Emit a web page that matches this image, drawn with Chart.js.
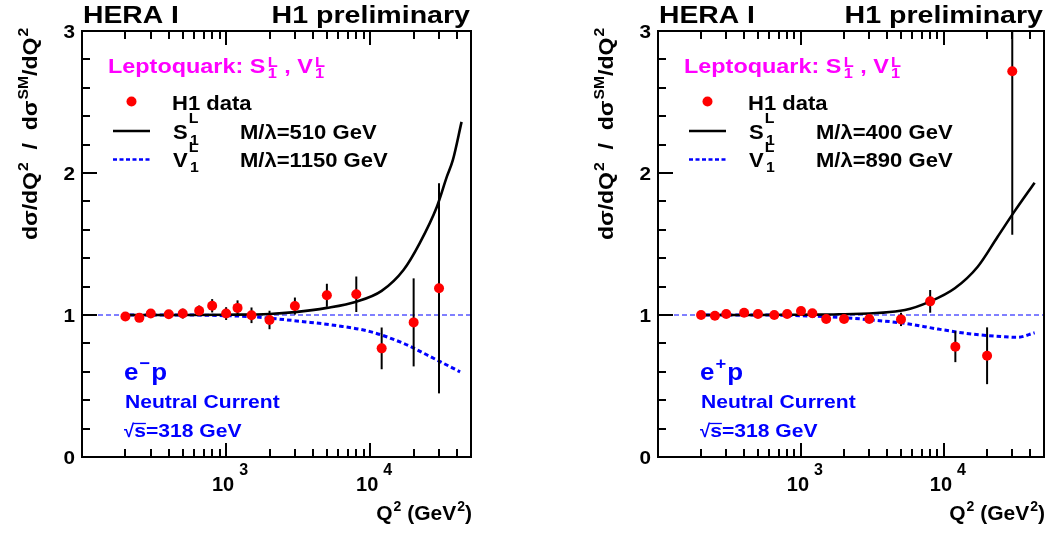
<!DOCTYPE html>
<html>
<head>
<meta charset="utf-8">
<script src="https://cdn.jsdelivr.net/npm/chart.js@4.4.0/dist/chart.umd.min.js"></script>
<style>
  body { margin: 0; background: #fff; }
  canvas { position: absolute; top: 0; }
</style>
</head>
<body>
<canvas id="emPanel" width="576" height="534" style="left:0;width:576px;height:534px"></canvas>
<canvas id="epPanel" width="473" height="534" style="left:576px;width:473px;height:534px"></canvas>
<script>
// measured points, both panels share the Q2 bins
const q2Bins = [200, 250, 300, 400, 500, 650, 800, 1000, 1200, 1500, 2000, 3000, 5000, 8000, 12000, 20000, 30000];

const emRatio = [0.99, 0.98, 1.01, 1.005, 1.01, 1.03, 1.065, 1.01, 1.05, 0.998, 0.965, 1.063, 1.139, 1.146, 0.765, 0.948, 1.188];
const emError = [0.02, 0.02, 0.03, 0.025, 0.035, 0.037, 0.047, 0.045, 0.053, 0.055, 0.065, 0.06, 0.081, 0.125, 0.147, 0.31, 0.74];

const epRatio = [1.0, 0.995, 1.007, 1.016, 1.007, 1.0, 1.007, 1.028, 1.012, 0.972, 0.972, 0.972, 0.969, 1.096, 0.777, 0.713, 2.716];
const epError = [0.015, 0.015, 0.015, 0.015, 0.015, 0.015, 0.015, 0.02, 0.02, 0.02, 0.02, 0.02, 0.047, 0.08, 0.109, 0.2, 1.15];

// leptoquark model curves
const emSQ2 = [190, 500, 1000, 2000, 3000, 5000, 8000, 12000, 17000, 22000, 29000, 34000, 37400, 43000];
const emS = [1.0, 1.0, 1.002, 1.007, 1.02, 1.05, 1.094, 1.17, 1.317, 1.505, 1.763, 1.974, 2.09, 2.36];
const emVQ2 = [190, 500, 1000, 1500, 2030, 3450, 5880, 10000, 17000, 29000, 42000];
const emV = [1.0, 1.0, 0.995, 0.988, 0.977, 0.953, 0.925, 0.883, 0.80, 0.683, 0.60];

const epSQ2 = [190, 500, 1000, 1840, 5330, 7950, 11900, 17200, 23700, 31000, 43000];
const epS = [1.0, 1.0, 1.002, 1.005, 1.035, 1.094, 1.188, 1.34, 1.551, 1.728, 1.932];
const epVQ2 = [190, 500, 1000, 1840, 3130, 5330, 9080, 15500, 26400, 32700, 43000];
const epV = [1.0, 1.0, 0.995, 0.984, 0.965, 0.941, 0.901, 0.866, 0.847, 0.843, 0.875];

const refQ2 = [100, 50000];
const refRatio = [1, 1];

const xRange = [100, 50000];
const yRange = [0, 3];
const yMajorTicks = [0, 1, 2, 3];
const xMajorTicks = [1000, 10000];
const xTickExponents = ['3', '4'];

const SX = 1.15; // the Helvetica in the figure is wider than Liberation Sans
const BLUE = '#0000ff';

function fontStr(size) {
  return 'bold ' + size + 'px "Liberation Sans", Arial, Helvetica, sans-serif';
}

// parts: {t, s (size), dy, stack}
function drawRich(ctx, parts, size, color, draw) {
  let x = 0, pend = 0;
  parts.forEach((p) => {
    const fs = p.s || size;
    ctx.font = fontStr(fs);
    const w = ctx.measureText(p.t).width;
    if (draw) {
      ctx.fillStyle = color;
      ctx.fillText(p.t, x + (p.dx || 0), p.dy || 0);
    }
    if (p.stack) { pend = w; } else { x += Math.max(w, pend) + (p.dx || 0); pend = 0; }
  });
  return x;
}

function text(ctx, parts, x, y, size, color, align, sx) {
  if (typeof parts === 'string') parts = [{ t: parts }];
  sx = sx || SX;
  ctx.save();
  ctx.textAlign = 'left';
  ctx.textBaseline = 'alphabetic';
  const w = drawRich(ctx, parts, size, color, false) * sx;
  const x0 = align === 'right' ? x - w : align === 'center' ? x - w / 2 : x;
  ctx.translate(x0, y);
  ctx.scale(sx, 1);
  drawRich(ctx, parts, size, color, true);
  ctx.restore();
  return w;
}

function zip(xs, ys) {
  return xs.map((x, i) => ({ x: x, y: ys[i] }));
}

const errorBars = {
  id: 'errorBars',
  beforeDatasetDraw(chart, args) {
    if (args.index !== 0) return;
    const ctx = chart.ctx, a = chart.chartArea;
    const xs = chart.scales.x, ys = chart.scales.y;
    const err = chart.options.plugins.errorBars.errors;
    ctx.save();
    ctx.beginPath();
    ctx.rect(a.left, a.top, a.right - a.left, a.bottom - a.top);
    ctx.clip();
    ctx.strokeStyle = '#000';
    ctx.lineWidth = 2;
    chart.data.datasets[0].data.forEach((p, i) => {
      const px = xs.getPixelForValue(p.x);
      ctx.beginPath();
      ctx.moveTo(px, ys.getPixelForValue(p.y - err[i]));
      ctx.lineTo(px, ys.getPixelForValue(p.y + err[i]));
      ctx.stroke();
    });
    ctx.restore();
  }
};

const rootFrame = {
  id: 'rootFrame',
  afterDraw(chart) {
    const ctx = chart.ctx, a = chart.chartArea;
    const xs = chart.scales.x, ys = chart.scales.y;
    const o = chart.options.plugins.rootFrame;
    ctx.save();
    ctx.strokeStyle = '#000';
    ctx.lineWidth = 2;
    ctx.strokeRect(a.left, a.top, a.right - a.left, a.bottom - a.top);

    // y ticks, 4 minor between majors
    ctx.beginPath();
    for (let k = 0; k <= 15; k++) {
      const v = k * 0.2;
      const py = Math.round(ys.getPixelForValue(v));
      const len = k % 5 === 0 ? 15 : 8;
      ctx.moveTo(a.left, py);
      ctx.lineTo(a.left + len, py);
    }
    // x ticks on bottom and top
    [100, 1000, 10000].forEach((dec) => {
      for (let m = 1; m <= 9; m++) {
        const v = m * dec;
        if (v <= xRange[0] || v >= xRange[1]) continue;
        const px = Math.round(xs.getPixelForValue(v));
        const len = m === 1 ? 14 : 8;
        ctx.moveTo(px, a.bottom);
        ctx.lineTo(px, a.bottom - len);
        ctx.moveTo(px, a.top);
        ctx.lineTo(px, a.top + len);
      }
    });
    ctx.stroke();

    yMajorTicks.forEach((v) => {
      text(ctx, String(v), a.left - 7, ys.getPixelForValue(v) + 6.5, 18, '#000', 'right');
    });
    xMajorTicks.forEach((v, i) => {
      const px = xs.getPixelForValue(v);
      text(ctx, '10', px + 8, a.bottom + 34, 20, '#000', 'right', 1.0);
      text(ctx, xTickExponents[i], px + 13, a.bottom + 18, 16, '#000', 'left', 1.0);
    });
    text(ctx, [{ t: 'Q' }, { t: '2', s: 14, dy: -9, dx: 1 }, { t: ' (GeV' }, { t: '2', s: 14, dy: -9, dx: 1 }, { t: ')' }],
      a.right + 1, a.bottom + 63, 21, '#000', 'right', 1.0);

    // axis title, rotated
    const tParts = [{ t: 'd\u03c3/dQ' }, { t: '2', s: 14, dy: -9, dx: 1 }, { t: '  /  d\u03c3' },
      { t: 'SM', s: 14, dy: -9, dx: 1 }, { t: '/dQ' }, { t: '2', s: 14, dy: -9, dx: 1 }];
    ctx.save();
    const tw = drawRich(ctx, tParts, 20.5, '#000', false) * 1.12;
    ctx.translate(37, 134 + tw / 2);
    ctx.rotate(-Math.PI / 2);
    ctx.scale(1.12, 1);
    drawRich(ctx, tParts, 20.5, '#000', true);
    ctx.restore();

    // header
    text(ctx, 'HERA I', 83, 23, 24, '#000', 'left', 1.18);
    text(ctx, 'H1 preliminary', a.right - 1, 23, 24, '#000', 'right', 1.19);

    // model label
    text(ctx, [{ t: 'Leptoquark: S' }, { t: 'L', s: 14, dy: -6, dx: 2, stack: true }, { t: '1', s: 14, dy: 5, dx: 2 },
      { t: ' , V' }, { t: 'L', s: 14, dy: -6, dx: 2, stack: true }, { t: '1', s: 14, dy: 5, dx: 2 }],
      108, 73, 20, '#ff00ff', 'left', 1.17);

    // legend
    ctx.fillStyle = '#ff0000';
    ctx.beginPath();
    ctx.arc(131.5, 101.5, 5, 0, Math.PI * 2);
    ctx.fill();
    text(ctx, 'H1 data', 172, 110, 19.5, '#000', 'left', 1.13);

    ctx.lineWidth = 2.6;
    ctx.strokeStyle = '#000';
    ctx.beginPath();
    ctx.moveTo(113, 131);
    ctx.lineTo(150, 131);
    ctx.stroke();
    ctx.strokeStyle = BLUE;
    ctx.setLineDash([4, 2.5]);
    ctx.beginPath();
    ctx.moveTo(113, 159.5);
    ctx.lineTo(150, 159.5);
    ctx.stroke();
    ctx.setLineDash([]);

    text(ctx, [{ t: 'S' }, { t: 'L', s: 14, dy: -16, dx: 1, stack: true }, { t: '1', s: 14, dy: 6, dx: 2 }],
      173, 139, 19.5, '#000', 'left', 1.13);
    text(ctx, o.sLabel, 240, 139, 19.5, '#000', 'left', 1.13);
    text(ctx, [{ t: 'V' }, { t: 'L', s: 14, dy: -15, dx: 1, stack: true }, { t: '1', s: 14, dy: 5, dx: 2 }],
      173, 166.5, 19.5, '#000', 'left', 1.13);
    text(ctx, o.vLabel, 240, 166.5, 19.5, '#000', 'left', 1.13);

    // beam / process annotation
    text(ctx, [{ t: 'e' }, { t: o.beam, s: 17, dy: -11, dx: 1 }, { t: 'p', dx: 1 }], 124, 380, 24, BLUE, 'left', 1.08);
    text(ctx, 'Neutral Current', 125, 408, 18.5, BLUE, 'left', 1.14);
    const rw = text(ctx, '\u221a', 124, 436.5, 18.5, BLUE, 'left', 1.0);
    const sw = text(ctx, 's', 124 + rw, 436.5, 18.5, BLUE, 'left', 1.14);
    ctx.strokeStyle = BLUE;
    ctx.lineWidth = 1.3;
    ctx.beginPath();
    ctx.moveTo(124 + rw - 1, 423.5);
    ctx.lineTo(124 + rw + sw, 423.5);
    ctx.stroke();
    text(ctx, '=318 GeV', 124 + rw + sw, 436.5, 18.5, BLUE, 'left', 1.14);
    ctx.restore();
  }
};

function makePanel(canvasId, ratio, error, sQ2, sVal, vQ2, vVal, beam, sLabel, vLabel, rightPad) {
  const canvas = document.getElementById(canvasId);
  return new Chart(canvas.getContext('2d'), {
    type: 'scatter',
    data: {
      datasets: [
        { data: zip(q2Bins, ratio), pointRadius: 5, pointBackgroundColor: '#ff0000', pointBorderWidth: 0, order: 0 },
        { data: zip(sQ2, sVal), showLine: true, pointRadius: 0, borderColor: '#000', borderWidth: 2.6,
          cubicInterpolationMode: 'monotone', order: 1 },
        { data: zip(vQ2, vVal), showLine: true, pointRadius: 0, borderColor: BLUE, borderWidth: 3,
          borderDash: [4.5, 3], cubicInterpolationMode: 'monotone', order: 2 },
        { data: zip(refQ2, refRatio), showLine: true, pointRadius: 0, borderColor: BLUE, borderWidth: 1,
          borderDash: [5, 3], order: 3 }
      ]
    },
    options: {
      responsive: false,
      animation: false,
      events: [],
      layout: { padding: { left: 82, right: rightPad, top: 31, bottom: 77 } },
      scales: {
        x: { type: 'logarithmic', min: xRange[0], max: xRange[1], display: false },
        y: { type: 'linear', min: yRange[0], max: yRange[1], display: false }
      },
      plugins: {
        legend: { display: false },
        tooltip: { enabled: false },
        errorBars: { errors: error },
        rootFrame: { beam: beam, sLabel: sLabel, vLabel: vLabel }
      }
    },
    plugins: [errorBars, rootFrame]
  });
}

makePanel('emPanel', emRatio, emError, emSQ2, emS, emVQ2, emV, '\u2212', 'M/\u03bb=510 GeV', 'M/\u03bb=1150 GeV', 105);
makePanel('epPanel', epRatio, epError, epSQ2, epS, epVQ2, epV, '+', 'M/\u03bb=400 GeV', 'M/\u03bb=890 GeV', 3);
</script>
</body>
</html>
